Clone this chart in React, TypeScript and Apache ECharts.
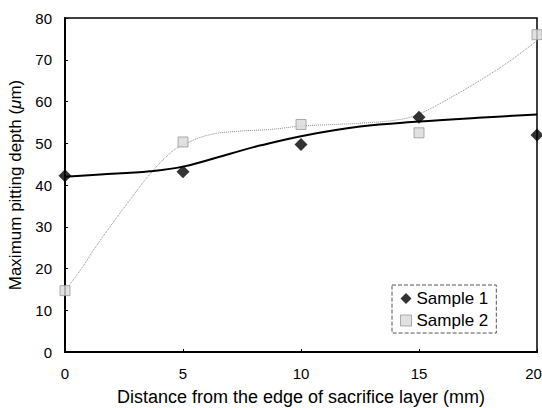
import React, { useEffect, useRef } from "react";
import * as echarts from "echarts";

const xTicks = [0, 5, 10, 15, 20];
const yTicks = [0, 10, 20, 30, 40, 50, 60, 70, 80];

const sample1X = [0, 5, 10, 15, 20];
const sample1Y = [42.2, 43.2, 49.7, 56.2, 52.0];
const sample2X = [0, 5, 10, 15, 20];
const sample2Y = [14.7, 50.3, 54.5, 52.5, 76.0];

// trend curves
const trend1X = [0, 1.5, 3.6, 5, 7, 8.3, 10, 12.5, 15, 17.5, 20];
const trend1Y = [42.0, 42.5, 43.3, 44.4, 47.5, 49.5, 51.7, 54.0, 55.2, 56.1, 56.9];
const trend2X = [0, 0.6, 1.5, 2.75, 3.6, 4.45, 5, 6.1, 7.4, 8.7, 10, 12.5, 14.2, 15, 16.3, 17.6, 18.9, 20];
const trend2Y = [14.7, 19.2, 26.8, 36.4, 42.6, 47.6, 49.6, 52.0, 52.9, 53.3, 54.1, 54.8, 55.7, 57.0, 60.8, 65.1, 69.9, 74.6];

const xTitle = "Distance from the edge of sacrifice layer (mm)";
const yTitleParts = ["Maximum pitting depth (", "μ", "m)"];

const zip = (xs: number[], ys: number[]) => xs.map((x, i) => [x, ys[i]]);

export default function App() {
  const ref = useRef<HTMLDivElement>(null);
  useEffect(() => {
    if (!ref.current) return;
    const chart = echarts.init(ref.current, undefined, { renderer: "svg" });
    const font = "Liberation Sans";
    const lastX = xTicks[xTicks.length - 1];
    chart.setOption({
      animation: false,
      backgroundColor: "#ffffff",
      textStyle: { fontFamily: font },
      grid: {
        left: 65,
        right: 5,
        top: 18,
        bottom: 56,
        show: true,
        borderColor: "#000",
        borderWidth: 1.5,
        containLabel: false,
        outerBoundsMode: "none",
      },
      legend: {
        orient: "vertical",
        left: 392,
        top: 285,
        padding: [5, 8, 4, 8],
        itemGap: 5,
        borderColor: "#555",
        borderWidth: 1,
        borderType: "dashed",
        backgroundColor: "#fff",
        itemWidth: 11,
        itemHeight: 11,
        textStyle: { fontSize: 17, color: "#000", fontFamily: font },
        data: [
          { name: "Sample 1", icon: "diamond", itemStyle: { color: "#000" } },
          { name: "Sample 2", icon: "rect", itemStyle: { color: "#dadada", borderColor: "#999", borderWidth: 1 } },
        ],
      },
      xAxis: {
        type: "value",
        min: 0,
        max: 20,
        interval: 5,
        name: xTitle,
        nameLocation: "middle",
        nameGap: 36,
        nameTextStyle: { fontSize: 18, color: "#000", fontFamily: font },
        axisLine: { show: true, onZero: false, lineStyle: { color: "#000", width: 2 } },
        axisTick: { show: true, inside: true, length: 3, lineStyle: { color: "#000" } },
        axisLabel: {
          fontSize: 15,
          color: "#000",
          margin: 14,
          fontFamily: font,
          formatter: (v: number) =>
            v === lastX ? `{r|${v}}` : xTicks.includes(v) ? String(v) : "",
          rich: { r: { fontSize: 15, color: "#000", fontFamily: font, padding: [0, 7, 0, 0] } },
        },
        splitLine: { show: false },
      },
      yAxis: {
        type: "value",
        min: 0,
        max: 80,
        interval: 10,
        name: `${yTitleParts[0]}{i|${yTitleParts[1]}}${yTitleParts[2]}`,
        nameLocation: "middle",
        nameGap: 33,
        nameTextStyle: {
          fontSize: 17,
          color: "#000",
          fontFamily: font,
          rich: { i: { fontSize: 17, fontStyle: "italic", color: "#000", fontFamily: font } },
        },
        axisLine: { show: true, onZero: false, lineStyle: { color: "#000", width: 2 } },
        axisTick: { show: true, inside: true, length: 3, lineStyle: { color: "#000" } },
        axisLabel: {
          fontSize: 15,
          color: "#000",
          margin: 13,
          fontFamily: font,
          formatter: (v: number) => (yTicks.includes(v) ? String(v) : ""),
        },
        splitLine: { show: false },
      },
      series: [
        {
          name: "trend2",
          type: "line",
          data: zip(trend2X, trend2Y),
          smooth: 0.4,
          showSymbol: false,
          symbol: "none",
          lineStyle: { color: "#8a8a8a", width: 1, type: "dotted" },
          z: 2,
        },
        {
          name: "trend1",
          type: "line",
          data: zip(trend1X, trend1Y),
          smooth: 0.4,
          showSymbol: false,
          symbol: "none",
          lineStyle: { color: "#000", width: 2 },
          z: 3,
        },
        {
          name: "Sample 2",
          type: "scatter",
          data: zip(sample2X, sample2Y),
          symbol: "rect",
          symbolSize: 10,
          itemStyle: { color: "#dadada", borderColor: "#999", borderWidth: 1 },
          z: 4,
        },
        {
          name: "Sample 1",
          type: "scatter",
          data: zip(sample1X, sample1Y),
          symbol: "diamond",
          symbolSize: 13,
          itemStyle: { color: "#000" },
          z: 5,
        },
      ],
    });
    return () => chart.dispose();
  }, []);
  return (
    <div
      ref={ref}
      style={{ position: "absolute", left: 0, top: 0, width: 542, height: 408 }}
    />
  );
}
